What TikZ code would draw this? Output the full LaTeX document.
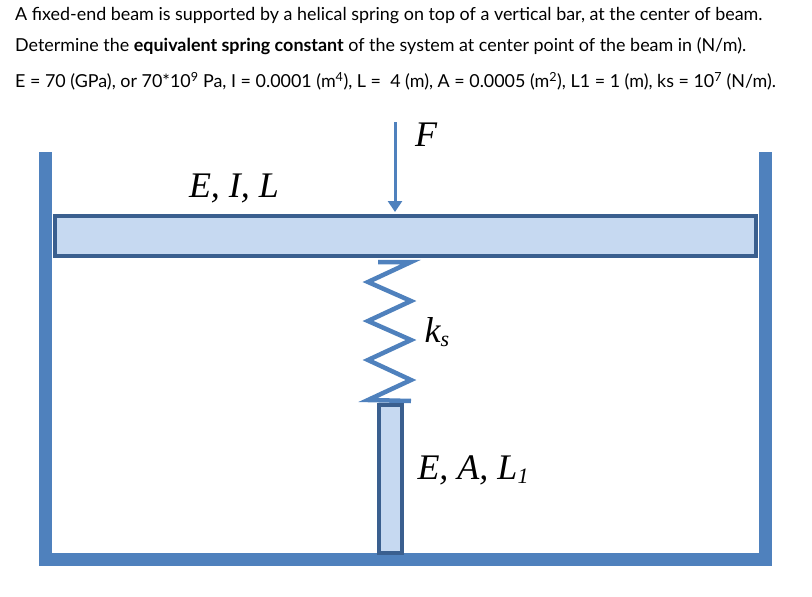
\documentclass[tikz,border=0pt]{standalone}
\usepackage{fontspec}
\newfontfamily\lato{Lato}
\newfontfamily\tnr{Liberation Serif}
\usetikzlibrary{arrows.meta}
\definecolor{wall}{HTML}{4F81BD}
\definecolor{dark}{HTML}{3A5F8F}
\definecolor{fillb}{HTML}{C6D9F1}
\newcommand{\mysub}[1]{\raisebox{-0.12em}{\fontsize{22}{24}\selectfont #1}}
\begin{document}
\begin{tikzpicture}[x=1pt,y=-1pt,
  txt/.style={font=\lato\fontsize{17.9}{20}\selectfont,anchor=west,inner sep=0pt},
  lab/.style={font=\tnr\fontsize{36}{38}\selectfont\itshape,inner sep=0pt}]
\useasboundingbox (0,0) rectangle (812,597);
\node[txt] (t1) at (15,16) {A fixed-end beam is supported by a helical spring on top of a vertical bar, at the center of beam.};
\node[txt] (t2) at (15,46) {Determine the \textbf{equivalent spring constant} of the system at center point of the beam in (N/m).};
\node[txt] (t3) at (15,81) {E = 70 (GPa), or 70*10\textsuperscript{9} Pa, I = 0.0001 (m\textsuperscript{4}), L =\ \ 4 (m), A = 0.0005 (m\textsuperscript{2}), L1 = 1 (m), ks = 10\textsuperscript{7} (N/m).};
% walls and floor
\fill[wall] (39,152) rectangle (52,566);
\fill[wall] (759,152) rectangle (772,566);
\fill[wall] (39,553) rectangle (772,566);
% beam
\node[draw=dark,fill=fillb,line width=4.5pt,minimum width=701pt,minimum height=40pt,inner sep=0pt] (beam) at (405.5,236) {};
% force
\coordinate (ftop) at (395,122);
\draw[wall,line width=3pt,-{Triangle[width=14pt,length=11pt]}] (ftop) -- (395,212);
\node[lab] (F) at (426,135) {F};
\node[lab] (EIL) at (234,188) {E, I, L};
% spring
\draw[wall,line width=4.5pt,line join=miter] (378,262) -- (411,262) -- (368,282) -- (411,301) -- (368,321) -- (411,340) -- (368,360) -- (411,380) -- (368,400) -- (411,401);
\node[lab] (ks) at (437,332) {k\mysub{s}};
% bar
\node[draw=dark,fill=fillb,line width=4.5pt,minimum width=23pt,minimum height=148pt,inner sep=0pt] (bar) at (390.5,479) {};
\node[lab] (EAL) at (473,470) {E, A, L\mysub{1}};
\end{tikzpicture}
\end{document}
